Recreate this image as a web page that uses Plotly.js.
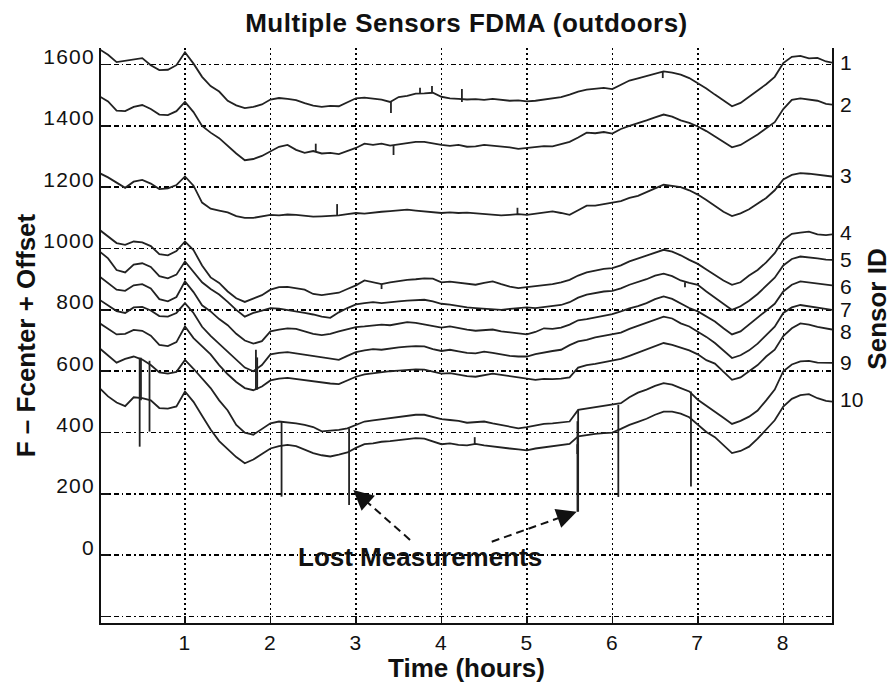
<!DOCTYPE html>
<html>
<head>
<meta charset="utf-8">
<script src="https://cdn.plot.ly/plotly-3.0.1.min.js"></script>
<style>
  html, body { margin: 0; padding: 0; background: #fff; }
  #chart { width: 895px; height: 683px; }
  .xtick text, .ytick text { letter-spacing: 1.2px; }
  .gtitle { letter-spacing: 0.5px; }
</style>
</head>
<body>
<div id="chart"></div>
<script>
// Time axis (hours)
const timeHours = [0,0.1,0.2,0.3,0.4,0.5,0.6,0.7,0.8,0.9,1.0,1.1,1.2,1.3,1.4,1.5,1.6,1.7,1.8,1.9,2.0,2.1,2.2,2.3,2.4,2.5,2.6,2.7,2.8,2.9,3.0,3.1,3.2,3.3,3.4,3.5,3.6,3.7,3.8,3.9,4.0,4.1,4.2,4.3,4.4,4.5,4.6,4.7,4.8,4.9,5.0,5.1,5.2,5.3,5.4,5.5,5.6,5.7,5.8,5.9,6.0,6.1,6.2,6.3,6.4,6.5,6.6,6.7,6.8,6.9,7.0,7.1,7.2,7.3,7.4,7.5,7.6,7.7,7.8,7.9,8.0,8.1,8.2,8.3,8.4,8.5,8.57];

// F - Fcenter + Offset for each sensor
const sensor1 = [1650,1632,1608,1612,1616,1621,1598,1582,1583,1598,1640,1603,1560,1530,1512,1482,1467,1458,1462,1470,1486,1491,1488,1484,1474,1466,1462,1465,1464,1476,1490,1492,1488,1486,1478,1494,1498,1505,1506,1508,1495,1490,1488,1486,1487,1485,1488,1484,1482,1483,1480,1482,1486,1490,1494,1502,1512,1518,1522,1524,1520,1535,1548,1555,1562,1570,1578,1574,1567,1556,1540,1522,1502,1482,1464,1475,1495,1515,1536,1560,1605,1625,1628,1620,1622,1610,1606];
const sensor2 = [1496,1480,1450,1448,1462,1468,1455,1437,1435,1448,1478,1445,1400,1378,1360,1334,1310,1288,1292,1302,1316,1332,1338,1322,1312,1318,1310,1312,1308,1318,1328,1342,1338,1342,1336,1340,1345,1348,1348,1342,1338,1335,1338,1332,1333,1338,1336,1332,1330,1325,1328,1330,1334,1333,1340,1348,1362,1378,1376,1380,1375,1390,1400,1408,1418,1428,1437,1430,1418,1410,1398,1383,1366,1348,1330,1338,1355,1372,1392,1412,1455,1485,1490,1487,1482,1472,1469];
const sensor3 = [1246,1232,1215,1198,1218,1224,1212,1194,1196,1207,1235,1205,1150,1130,1124,1118,1106,1100,1100,1104,1110,1108,1111,1110,1108,1104,1105,1106,1108,1112,1116,1114,1118,1120,1122,1125,1127,1124,1122,1118,1116,1118,1116,1117,1115,1113,1110,1108,1110,1112,1110,1114,1118,1121,1116,1110,1125,1140,1140,1146,1150,1155,1165,1172,1185,1196,1208,1205,1200,1190,1176,1158,1138,1120,1106,1115,1128,1146,1165,1190,1225,1240,1246,1244,1240,1236,1235];
const sensor4 = [1061,1040,1018,1012,1023,1020,1008,982,978,992,1023,995,945,906,888,860,838,826,836,848,866,874,875,870,866,852,848,852,856,868,880,896,890,884,890,895,898,900,903,902,890,892,888,884,882,888,893,884,876,871,874,878,880,884,890,898,912,922,928,934,936,945,958,968,978,988,996,990,978,963,950,932,915,896,882,890,912,930,955,985,1028,1048,1052,1055,1046,1044,1046];
const sensor5 = [991,968,930,922,948,952,940,910,903,915,958,925,890,868,850,826,800,778,790,798,806,804,800,796,790,785,778,774,792,806,818,822,825,822,826,828,830,832,833,828,820,817,812,808,806,804,802,800,803,806,808,806,810,814,816,825,840,850,856,860,862,870,882,890,900,912,918,910,896,888,882,860,840,820,800,812,830,852,878,905,945,966,974,972,968,964,963];
const sensor6 = [909,888,866,862,880,884,870,835,828,842,893,858,815,795,770,750,722,700,690,698,730,736,740,738,730,722,718,722,730,738,744,746,748,752,750,755,760,758,752,748,742,746,740,736,732,735,736,730,726,722,720,728,740,738,742,752,766,770,776,782,786,795,805,812,822,835,844,836,820,806,795,778,762,740,720,730,752,775,798,820,860,882,893,890,886,882,880];
const sensor7 = [833,815,796,790,808,810,798,780,778,790,822,790,745,715,690,665,640,612,600,620,655,660,662,658,652,650,646,640,637,650,662,668,672,670,675,678,680,682,681,672,666,670,665,660,658,664,660,655,650,648,648,656,662,666,670,685,697,702,710,716,720,726,738,748,758,770,778,772,756,746,730,712,692,668,643,652,668,690,718,745,790,808,816,812,806,802,800];
const sensor8 = [757,738,720,722,735,732,716,686,682,695,746,708,680,655,620,590,565,545,538,550,570,576,578,574,570,566,564,560,558,570,582,590,594,596,600,602,604,606,605,598,592,594,588,584,582,586,592,588,584,580,575,572,575,574,576,580,612,620,624,630,634,640,650,660,670,682,692,686,676,668,655,636,625,600,572,580,600,620,648,670,715,740,756,752,745,740,736];
const sensor9 = [675,650,628,640,648,638,620,596,592,598,637,608,575,545,505,472,425,400,393,412,430,436,434,430,425,418,404,406,409,414,425,436,440,444,448,452,455,458,458,450,444,441,438,432,434,436,430,425,418,414,418,424,428,430,432,436,474,478,482,488,490,496,515,530,540,552,561,556,545,534,507,488,468,448,428,438,452,472,505,540,600,622,632,634,628,628,627];
const sensor10 = [545,518,498,486,515,512,505,480,478,485,534,500,455,410,372,345,320,300,312,330,348,356,360,356,345,333,326,322,328,335,350,362,365,370,372,376,378,382,380,370,362,365,360,358,363,358,354,350,348,345,342,348,352,355,360,363,388,393,396,398,400,412,425,435,445,458,468,468,462,450,425,402,385,358,333,340,354,380,410,440,485,510,522,525,512,503,501];

const sensorSeries = [sensor1, sensor2, sensor3, sensor4, sensor5, sensor6, sensor7, sensor8, sensor9, sensor10];

// Glitches / lost measurements: time, level before, extreme value
const spikeX    = [0.47, 0.485, 0.585, 1.83, 1.845, 2.13, 2.92, 5.592, 5.6, 6.07, 6.92, 3.41, 3.75, 3.89, 4.24, 6.59, 2.53, 3.44, 2.78, 4.89, 3.3, 6.85, 4.39, 5.59];
const spikeFrom = [644, 644, 634, 540, 540, 436, 414, 437, 142, 490, 534, 1478, 1506, 1508, 1478, 1576, 1318, 1337, 1107, 1111, 885, 890, 360, 362];
const spikeTo   = [354, 505, 403, 670, 645, 191, 164, 142, 474, 190, 224, 1442, 1524, 1530, 1520, 1556, 1342, 1305, 1145, 1133, 868, 874, 385, 330];

// Right-hand sensor ID labels
const sensorIds = ['1','2','3','4','5','6','7','8','9','10'];
const sensorLabelY = [1608, 1469, 1237, 1051, 963, 875, 800, 728, 629, 507];

// Axis ticks
const xTickVals = [1,2,3,4,5,6,7,8];
const yTickVals = [-200,0,200,400,600,800,1000,1200,1400,1600];
const yTickText = ['','0','200','400','600','800','1000','1200','1400','1600'];

const lineColor = '#222';
const FONT = 'Liberation Sans, Arial, Helvetica, sans-serif';

const traces = sensorSeries.map((ys, i) => ({
  type: 'scatter', mode: 'lines', x: timeHours, y: ys,
  name: 'Sensor ' + sensorIds[i],
  line: {color: lineColor, width: 1.8},
  hoverinfo: 'skip'
}));

const sx = [], sy = [];
for (let i = 0; i < spikeX.length; i++) {
  sx.push(spikeX[i], spikeX[i], null);
  sy.push(spikeFrom[i], spikeTo[i], null);
}
traces.push({type: 'scatter', mode: 'lines', x: sx, y: sy, name: 'glitches',
  line: {color: lineColor, width: 1.8}, connectgaps: false, hoverinfo: 'skip'});

const annotations = sensorIds.map((id, i) => ({
  x: 1.008, xref: 'paper', y: sensorLabelY[i], yref: 'y',
  text: id, showarrow: false, xanchor: 'left', yanchor: 'middle',
  font: {family: FONT, size: 21, color: '#111'}
}));
annotations.push({
  x: 1.0616, xref: 'paper', y: 0.545, yref: 'paper', text: 'Sensor ID',
  textangle: -90, showarrow: false, xanchor: 'center', yanchor: 'middle',
  font: {family: FONT, size: 26, weight: 'bold', color: '#111'}
});
annotations.push({
  x: 3.75, xref: 'x', y: -5, yref: 'y', text: 'Lost Measurements',
  showarrow: false, xanchor: 'center', yanchor: 'middle',
  font: {family: FONT, size: 26, weight: 'bold', color: '#111'}
});
annotations.push({
  x: 2.969, y: 213, xref: 'x', yref: 'y', text: '', showarrow: true,
  arrowhead: 2, arrowsize: 2, arrowwidth: 2, arrowcolor: '#111',
  ax: 13, ay: 11.5, standoff: 0
});
annotations.push({
  x: 5.583, y: 142, xref: 'x', yref: 'y', text: '', showarrow: true,
  arrowhead: 2, arrowsize: 2, arrowwidth: 2, arrowcolor: '#111',
  ax: -16, ay: 5.7, standoff: 0
});

const shapes = [
  {type: 'line', xref: 'x', yref: 'y', x0: 3.633, y0: 50, x1: 3.10, y1: 181,
   line: {color: '#111', width: 2, dash: '8px,5px'}},
  {type: 'line', xref: 'x', yref: 'y', x0: 4.589, y0: 44, x1: 5.42, y1: 126,
   line: {color: '#111', width: 2, dash: '8px,5px'}}
];

const layout = {
  width: 895, height: 683,
  margin: {l: 101, r: 63, t: 48, b: 60, pad: 0},
  paper_bgcolor: '#fff', plot_bgcolor: '#fff',
  showlegend: false,
  font: {family: FONT, size: 21, color: '#111'},
  title: {
    text: 'Multiple Sensors FDMA (outdoors)',
    x: 0.5, xref: 'paper', y: 0.966, yref: 'container', yanchor: 'middle',
    font: {family: FONT, size: 26, weight: 'bold', color: '#111'}
  },
  xaxis: {
    range: [0.0175, 8.57], tickmode: 'array', tickvals: xTickVals,
    ticks: 'inside', ticklen: 7, tickwidth: 1.5, tickcolor: '#111',
    showline: true, linewidth: 2, linecolor: '#111', mirror: false,
    showgrid: true, gridcolor: '#000', gridwidth: 1.5, griddash: '2px,3px',
    zeroline: false, tickfont: {family: FONT, size: 21, color: '#111'},
    title: {text: 'Time (hours)', standoff: 4,
            font: {family: FONT, size: 26, weight: 'bold', color: '#111'}}
  },
  yaxis: {
    range: [-221, 1654], tickmode: 'array', tickvals: yTickVals, ticktext: yTickText,
    ticks: 'inside', ticklen: 8, tickwidth: 1.5, tickcolor: '#111',
    showline: true, linewidth: 2, linecolor: '#111', mirror: true,
    showgrid: true, gridcolor: '#000', gridwidth: 1.5, griddash: '5px,3px,1.5px,3px',
    zeroline: false, ticklabelshift: -8,
    tickfont: {family: FONT, size: 21, color: '#111'},
    title: {text: 'F – Fcenter + Offset', standoff: 0,
            font: {family: FONT, size: 26, weight: 'bold', color: '#111'}}
  },
  annotations: annotations,
  shapes: shapes
};

Plotly.newPlot('chart', traces, layout, {staticPlot: true, displayModeBar: false});
</script>
</body>
</html>
